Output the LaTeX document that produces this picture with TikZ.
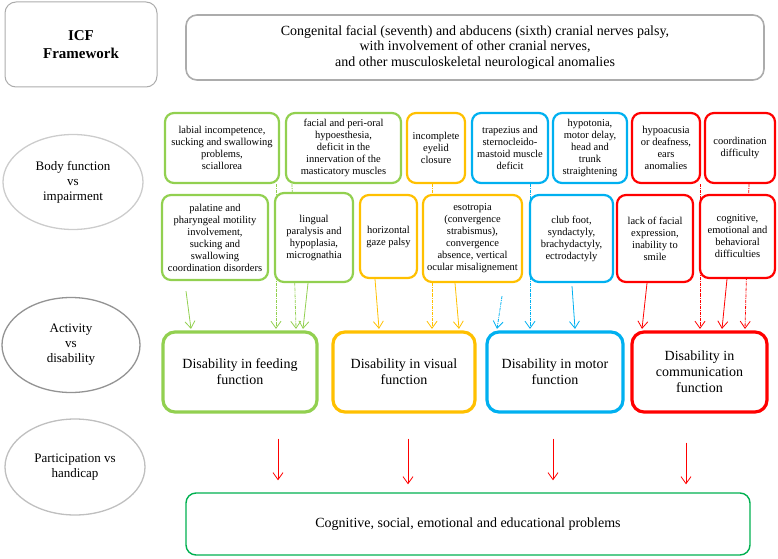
\documentclass[tikz,border=0pt]{standalone}
\usepackage{fontspec}
\setmainfont{Liberation Serif}
\usepackage{tikz}
\usetikzlibrary{shapes.geometric, arrows.meta, calc, backgrounds}
\definecolor{feedgreen}{RGB}{146, 208, 80}
\definecolor{visyellow}{RGB}{255, 192, 0}
\definecolor{motblue}{RGB}{0, 176, 240}
\definecolor{comred}{RGB}{255, 0, 0}
\definecolor{partgreen}{RGB}{0, 176, 80}
\tikzstyle{icfbox} = [rectangle, rounded corners=11pt, draw=gray!65, line width=1pt, align=center]
\tikzstyle{level} = [ellipse, line width=1.3pt, align=center, font=\fontsize{13}{15}\selectfont]
\tikzstyle{impair} = [rectangle, rounded corners=9pt, line width=2.2pt, fill=white, align=center, inner sep=1pt, font=\fontsize{10.5}{12}\selectfont]
\tikzstyle{disab} = [rectangle, rounded corners=12pt, line width=3.2pt, fill=white, align=center, minimum height=80pt, font=\fontsize{14}{16}\selectfont]
\tikzstyle{link} = [line width=0.8pt, -{Straight Barb[length=7pt, width=10pt]}]
\tikzstyle{weaklink} = [link, densely dash dot]

\begin{document}
\begin{tikzpicture}[x=1pt, y=1pt]
    \useasboundingbox (0,0) rectangle (778,558);

    % ICF levels (left column)
    \node[icfbox, minimum width=152pt, minimum height=85pt, font=\fontsize{15}{18}\selectfont\bfseries] (icf) at (81,513.5) {ICF\\Framework};
    \node[level, draw=gray!40, minimum width=140pt, minimum height=95pt] (body) at (73,376) {Body function\\vs\\impairment};
    \node[level, draw=gray!85, minimum width=138pt, minimum height=95pt] (activity) at (71,213) {Activity\\vs\\disability};
    \node[level, draw=gray!50, minimum width=140pt, minimum height=96pt] (particip) at (75,91) {Participation vs\\handicap};

    % Syndrome
    \node[icfbox, minimum width=578pt, minimum height=65pt, line width=1.6pt, font=\fontsize{14}{15.5}\selectfont] (syndrome) at (475,510.5) {
        Congenital facial (seventh) and abducens (sixth) cranial nerves palsy,\\
        with involvement of other cranial nerves,\\
        and other musculoskeletal neurological anomalies
    };

    % Body function vs impairment -- upper row
    \node[impair, draw=feedgreen, minimum width=114pt, minimum height=70pt] (labial) at (222,410) {labial incompetence,\\sucking and swallowing\\problems,\\sciallorea};
    \node[impair, draw=feedgreen, minimum width=115pt, minimum height=70pt] (perioral) at (343.5,410) {facial and peri-oral\\hypoesthesia,\\deficit in the\\innervation of the\\masticatory muscles};
    \node[impair, draw=visyellow, minimum width=58pt, minimum height=70pt] (eyelid) at (436,410) {incomplete\\eyelid\\closure};
    \node[impair, draw=motblue, minimum width=76pt, minimum height=70pt] (trapezius) at (510,410) {trapezius and\\sternocleido-\\mastoid muscle\\deficit};
    \node[impair, draw=motblue, minimum width=74pt, minimum height=70pt] (hypotonia) at (590,410) {hypotonia,\\motor delay,\\head and\\trunk\\straightening};
    \node[impair, draw=comred, minimum width=68pt, minimum height=70pt] (hearing) at (666,410) {hypoacusia\\or deafness,\\ears\\anomalies};
    \node[impair, draw=comred, minimum width=70pt, minimum height=70pt] (coordin) at (740,410) {coordination\\difficulty};

    % Body function vs impairment -- lower row
    \node[impair, draw=feedgreen, minimum width=106pt, minimum height=85pt] (palatine) at (215,320.5) {palatine and\\pharyngeal motility\\involvement,\\sucking and\\swallowing\\coordination disorders};
    \node[impair, draw=feedgreen, minimum width=78pt, minimum height=89pt] (lingual) at (314,320.5) {lingual\\paralysis and\\hypoplasia,\\micrognathia};
    \node[impair, draw=visyellow, minimum width=57pt, minimum height=83pt] (gaze) at (388.5,321.5) {horizontal\\gaze palsy};
    \node[impair, draw=visyellow, minimum width=99pt, minimum height=87pt] (esotropia) at (472.5,319.5) {esotropia\\(convergence\\strabismus),\\convergence\\absence, vertical\\ocular misalignement};
    \node[impair, draw=motblue, minimum width=83pt, minimum height=87pt] (clubfoot) at (571.5,319.5) {club foot,\\syndactyly,\\brachydactyly,\\ectrodactyly};
    \node[impair, draw=comred, minimum width=76pt, minimum height=87pt] (facial) at (655,319.5) {lack of facial\\expression,\\inability to\\smile};
    \node[impair, draw=comred, minimum width=75pt, minimum height=83pt] (cognitive) at (737.5,321.5) {cognitive,\\emotional and\\behavioral\\difficulties};

    % Activity vs disability
    \node[disab, draw=feedgreen, minimum width=154pt] (feeding) at (240,186) {Disability in feeding\\function};
    \node[disab, draw=visyellow, minimum width=142pt] (visual) at (404,186) {Disability in visual\\function};
    \node[disab, draw=motblue, minimum width=136pt] (motor) at (555,186) {Disability in motor\\function};
    \node[disab, draw=comred, minimum width=135pt] (commun) at (699.5,186) {Disability in\\communication\\function};

    % Participation vs handicap
    \node[rectangle, rounded corners=10pt, draw=partgreen, line width=1.4pt, minimum width=564pt, minimum height=62pt, font=\fontsize{14}{16}\selectfont] (problems) at (468,34) {Cognitive, social, emotional and educational problems};

    % Connections
    \begin{scope}[on background layer]
        \draw[link, draw=feedgreen] ($(palatine.south)+(-29,-10)$) -- ($(feeding.north)+(-49,1.5)$);
        \draw[weaklink, draw=feedgreen] ($(labial.south)+(54,0)$) -- ($(feeding.north)+(36,1.5)$);
        \draw[weaklink, draw=feedgreen] ($(perioral.south)+(-51.5,0)$) -- ($(feeding.north)+(56,1.5)$);
        \draw[link, draw=feedgreen] ($(lingual.south)+(-6,0)$) -- ($(feeding.north)+(63,1.5)$);

        \draw[link, draw=visyellow] ($(gaze.south)+(-13.5,0)$) -- ($(visual.north)+(-25,1.5)$);
        \draw[weaklink, draw=visyellow] ($(eyelid.south)+(-4,0)$) -- ($(visual.north)+(28,1.5)$);
        \draw[link, draw=visyellow] ($(esotropia.south)+(-17.5,0)$) -- ($(visual.north)+(55,1.5)$);

        \coordinate (trapfoot) at ($(trapezius.south)+(-8,-112)$);
        \draw[weaklink, draw=motblue] (trapfoot) -- ($(motor.north)+(-58,1.5)$);
        \draw[weaklink, draw=motblue] ($(trapezius.south)+(20,0)$) -- ($(motor.north)+(-25,1.5)$);
        \draw[link, draw=motblue] ($(clubfoot.south)+(0.5,-3)$) -- ($(motor.north)+(20,1.5)$);

        \draw[link, draw=comred] ($(facial.south)+(-8,0)$) -- ($(commun.north)+(-57.5,1.5)$);
        \draw[weaklink, draw=comred] ($(hearing.south)+(34,0)$) -- ($(commun.north)+(0.5,1.5)$);
        \draw[link, draw=comred] ($(cognitive.south)+(-10.5,0)$) -- ($(commun.north)+(22.5,1.5)$);
        \draw[weaklink, draw=comred] ($(coordin.south)+(9,0)$) -- ($(commun.north)+(45.5,1.5)$);
    \end{scope}

    % Towards participation
    \coordinate (fd) at ($(feeding.south)+(38,-25)$);
    \coordinate (vs) at ($(visual.south)+(4,-25)$);
    \coordinate (mt) at ($(motor.south)+(-2,-25)$);
    \coordinate (cm) at ($(commun.south)+(-13.5,-29)$);
    \draw[link, draw=comred, shorten >=12pt] (fd) -- (fd |- problems.north);
    \draw[link, draw=comred, shorten >=8pt] (vs) -- (vs |- problems.north);
    \draw[link, draw=comred, shorten >=12pt] (mt) -- (mt |- problems.north);
    \draw[link, draw=comred, shorten >=8pt] (cm) -- (cm |- problems.north);
\end{tikzpicture}
\end{document}
